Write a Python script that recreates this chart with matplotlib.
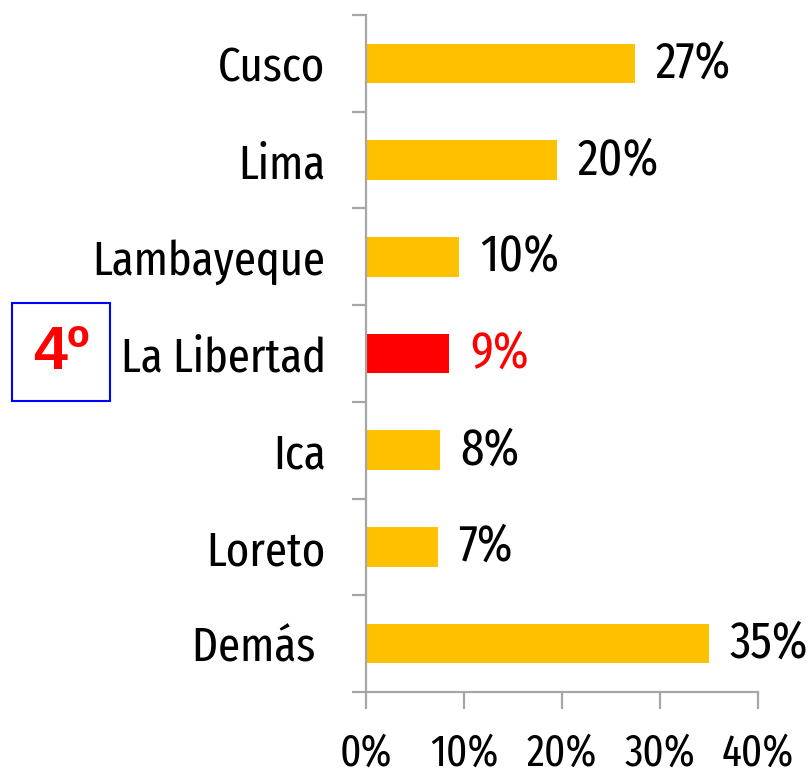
import matplotlib
matplotlib.use("Agg")
import matplotlib.pyplot as plt
from matplotlib.patches import Rectangle
from matplotlib.ticker import FixedLocator, NullFormatter

categories = ["Cusco", "Lima", "Lambayeque", "La Libertad", "Ica", "Loreto", "Demás "]
values = [27.4, 19.5, 9.5, 8.5, 7.5, 7.3, 35.0]
value_labels = ["27%", "20%", "10%", "9%", "8%", "7%", "35%"]
highlight = "La Libertad"
rank_text = "4º"
x_ticks = [0, 10, 20, 30, 40]
x_tick_labels = ["0%", "10%", "20%", "30%", "40%"]

FONT = ["Fira Sans Extra Condensed", "DejaVu Sans"]
ORANGE = "#FFC000"
RED = "#FF0000"
GRAY = "#A6A6A6"

fig = plt.figure(figsize=(8.09, 7.80), dpi=100)
W, H = 809, 780
ax = fig.add_axes([366 / W, 1 - 692 / H, (758 - 366) / W, (692 - 15) / H])

ypos = list(range(len(categories)))
colors = [RED if c == highlight else ORANGE for c in categories]
ax.barh(ypos, values, height=0.41, color=colors)

ax.set_xlim(0, 40)
ax.set_ylim(len(categories) - 0.5, -0.5)

for s in ["top", "right"]:
    ax.spines[s].set_visible(False)
for s in ["left", "bottom"]:
    ax.spines[s].set_color(GRAY)
    ax.spines[s].set_linewidth(1.6)

# x ticks
ax.set_xticks(x_ticks)
ax.set_xticklabels(x_tick_labels, fontfamily=FONT, fontsize=32)
ax.tick_params(axis="x", direction="out", length=12, width=1.6, color=GRAY, pad=17)

# y ticks: boundaries as major ticks, labels on minor ticks at centers
bounds = [i - 0.5 for i in range(len(categories) + 1)]
ax.yaxis.set_major_locator(FixedLocator(bounds))
ax.yaxis.set_major_formatter(NullFormatter())
ax.tick_params(axis="y", which="major", direction="out", length=10, width=1.6, color=GRAY)
ax.set_yticks(ypos, minor=True)
ax.set_yticklabels(categories, minor=True, fontfamily=FONT, fontsize=35)
ax.tick_params(axis="y", which="minor", length=0, pad=29)

for y, v, lab, c in zip(ypos, values, value_labels, categories):
    ax.annotate(lab, xy=(v, y), xytext=(15, 0), textcoords="offset points",
                ha="left", va="center", fontfamily=FONT, fontsize=37,
                color=RED if c == highlight else "black")

# rank box
fig.patches.append(Rectangle((12 / W, 1 - 401 / H), 98 / W, 98 / H,
                             transform=fig.transFigure, fill=False,
                             edgecolor="#0000FF", linewidth=1.5))
fig.text(61 / W, 1 - 354 / H, rank_text, ha="center", va="center",
         fontsize=44, fontweight="bold", color=RED, fontfamily=["Liberation Sans", "DejaVu Sans"])

fig.savefig("out.png", dpi=100)
